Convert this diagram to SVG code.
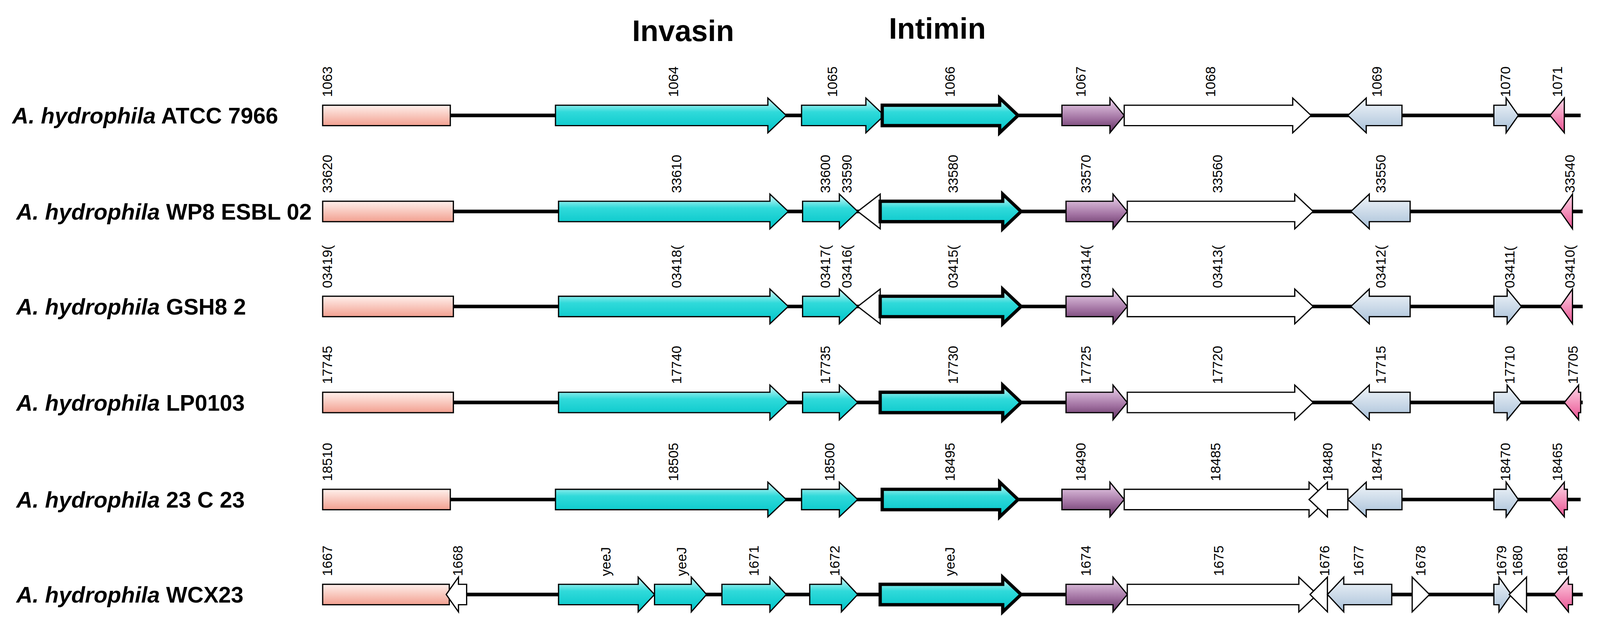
<svg xmlns="http://www.w3.org/2000/svg" width="4157" height="1648" viewBox="0 0 4157 1648">
<defs>
<linearGradient id="gc" x1="0" y1="0" x2="0" y2="1"><stop offset="0" stop-color="#e0fcfc"/><stop offset="0.4" stop-color="#30dada"/><stop offset="1" stop-color="#00c4c8"/></linearGradient>
<linearGradient id="gp" x1="0" y1="0" x2="0" y2="1"><stop offset="0" stop-color="#fff0ec"/><stop offset="1" stop-color="#f2a090"/></linearGradient>
<linearGradient id="gm" x1="0" y1="0" x2="0" y2="1"><stop offset="0" stop-color="#f0d8f0"/><stop offset="0.6" stop-color="#a070a0"/><stop offset="1" stop-color="#603060"/></linearGradient>
<linearGradient id="gb" x1="0" y1="0" x2="0" y2="1"><stop offset="0" stop-color="#f2f6fa"/><stop offset="1" stop-color="#a8c0d8"/></linearGradient>
<linearGradient id="gr" x1="0" y1="0" x2="0" y2="1"><stop offset="0" stop-color="#ffd8e8"/><stop offset="1" stop-color="#e85090"/></linearGradient>
</defs>
<style>
.bb{stroke:#000;stroke-width:3.5}
.g{stroke:#000;stroke-width:1.2;stroke-linejoin:miter}
.i{stroke:#000;stroke-width:3.2}
.c{fill:url(#gc)} .p{fill:url(#gp)} .m{fill:url(#gm)} .b{fill:url(#gb)} .r{fill:url(#gr)} .w{fill:#fff}
.n{font-family:"Liberation Sans",Arial,sans-serif;font-size:13.5px;fill:#000}
.sp{font-family:"Liberation Sans",Arial,sans-serif;font-size:22px;font-weight:bold;fill:#000}
.t{font-family:"Liberation Sans",Arial,sans-serif;font-size:29px;font-weight:bold;fill:#000;text-anchor:middle}
</style>
<rect width="4157" height="1648" fill="#fff"/>
<g transform="scale(2.614)">
<text class="t" x="669" y="40">Invasin</text>
<text class="t" x="918" y="38">Intimin</text>
<g id="connectors">
<line class="bb" x1="316" y1="113" x2="1548" y2="113"/>
<line class="bb" x1="316" y1="207" x2="1550" y2="207"/>
<line class="bb" x1="316" y1="300" x2="1550" y2="300"/>
<line class="bb" x1="316" y1="394" x2="1550" y2="394"/>
<line class="bb" x1="316" y1="489" x2="1548" y2="489"/>
<line class="bb" x1="316" y1="582" x2="1550" y2="582"/>
</g>
<g id="row1">
<text class="sp" x="12" y="121"><tspan font-style="italic">A. hydrophila</tspan> ATCC 7966</text>
<rect class="g p" x="316" y="103" width="125" height="20"/>
<path class="g c" d="M544,103H752V96L770,113L752,130V123H544Z"/>
<path class="g c" d="M785,103H848V96L866,113L848,130V123H785Z"/>
<path class="i c" d="M864,103H979V96L997,113L979,130V123H864Z"/>
<path class="g m" d="M1040,103H1087V96L1101,113L1087,130V123H1040Z"/>
<path class="g w" d="M1101,103H1266V96L1284,113L1266,130V123H1101Z"/>
<path class="g b" d="M1373,103H1338V96L1320,113L1338,130V123H1373Z"/>
<path class="g b" d="M1463,103H1475V96L1487,113L1475,130V123H1463Z"/>
<path class="g r" d="M1532,103V96L1518,113L1532,130V123Z"/>
<g class="n">
<text transform="translate(325,95) rotate(-90)">1063</text>
<text transform="translate(664,95) rotate(-90)">1064</text>
<text transform="translate(820,95) rotate(-90)">1065</text>
<text transform="translate(935,95) rotate(-90)">1066</text>
<text transform="translate(1063,95) rotate(-90)">1067</text>
<text transform="translate(1190,95) rotate(-90)">1068</text>
<text transform="translate(1353,95) rotate(-90)">1069</text>
<text transform="translate(1479,95) rotate(-90)">1070</text>
<text transform="translate(1530,95) rotate(-90)">1071</text>
</g>
</g>
<g id="row2">
<text class="sp" x="16" y="215"><tspan font-style="italic">A. hydrophila</tspan> WP8 ESBL 02</text>
<rect class="g p" x="316" y="197" width="128" height="20"/>
<path class="g c" d="M547,197H754V190L772,207L754,224V217H547Z"/>
<path class="g c" d="M786,197H822V190L840,207L822,224V217H786Z"/>
<path class="g w" d="M862,190L840,207L862,224Z"/>
<path class="i c" d="M862,197H982V190L1000,207L982,224V217H862Z"/>
<path class="g m" d="M1044,197H1090V190L1104,207L1090,224V217H1044Z"/>
<path class="g w" d="M1104,197H1268V190L1286,207L1268,224V217H1104Z"/>
<path class="g b" d="M1381,197H1341V190L1323,207L1341,224V217H1381Z"/>
<path class="g r" d="M1540,197V190L1528,207L1540,224V217Z"/>
<g class="n">
<text transform="translate(325,189) rotate(-90)">33620</text>
<text transform="translate(667,189) rotate(-90)">33610</text>
<text transform="translate(813,189) rotate(-90)">33600</text>
<text transform="translate(834,189) rotate(-90)">33590</text>
<text transform="translate(938,189) rotate(-90)">33580</text>
<text transform="translate(1068,189) rotate(-90)">33570</text>
<text transform="translate(1197,189) rotate(-90)">33560</text>
<text transform="translate(1357,189) rotate(-90)">33550</text>
<text transform="translate(1542,189) rotate(-90)">33540</text>
</g>
</g>
<g id="row3">
<text class="sp" x="16" y="308"><tspan font-style="italic">A. hydrophila</tspan> GSH8 2</text>
<rect class="g p" x="316" y="290" width="128" height="20"/>
<path class="g c" d="M547,290H754V283L772,300L754,317V310H547Z"/>
<path class="g c" d="M786,290H822V283L840,300L822,317V310H786Z"/>
<path class="g w" d="M862,283L840,300L862,317Z"/>
<path class="i c" d="M862,290H982V283L1000,300L982,317V310H862Z"/>
<path class="g m" d="M1044,290H1090V283L1104,300L1090,317V310H1044Z"/>
<path class="g w" d="M1104,290H1268V283L1286,300L1268,317V310H1104Z"/>
<path class="g b" d="M1381,290H1341V283L1323,300L1341,317V310H1381Z"/>
<path class="g b" d="M1463,290H1476V283L1490,300L1476,317V310H1463Z"/>
<path class="g r" d="M1540,290V283L1528,300L1540,317V310Z"/>
<g class="n">
<text transform="translate(325,282) rotate(-90)">03419(</text>
<text transform="translate(667,282) rotate(-90)">03418(</text>
<text transform="translate(813,282) rotate(-90)">03417(</text>
<text transform="translate(834,282) rotate(-90)">03416(</text>
<text transform="translate(938,282) rotate(-90)">03415(</text>
<text transform="translate(1068,282) rotate(-90)">03414(</text>
<text transform="translate(1197,282) rotate(-90)">03413(</text>
<text transform="translate(1357,282) rotate(-90)">03412(</text>
<text transform="translate(1483,282) rotate(-90)">03411(</text>
<text transform="translate(1542,282) rotate(-90)">03410(</text>
</g>
</g>
<g id="row4">
<text class="sp" x="16" y="402"><tspan font-style="italic">A. hydrophila</tspan> LP0103</text>
<rect class="g p" x="316" y="384" width="128" height="20"/>
<path class="g c" d="M547,384H754V377L772,394L754,411V404H547Z"/>
<path class="g c" d="M786,384H822V377L840,394L822,411V404H786Z"/>
<path class="i c" d="M862,384H982V377L1000,394L982,411V404H862Z"/>
<path class="g m" d="M1044,384H1090V377L1104,394L1090,411V404H1044Z"/>
<path class="g w" d="M1104,384H1268V377L1286,394L1268,411V404H1104Z"/>
<path class="g b" d="M1381,384H1341V377L1323,394L1341,411V404H1381Z"/>
<path class="g b" d="M1463,384H1476V377L1490,394L1476,411V404H1463Z"/>
<path class="g r" d="M1548,384H1546V377L1532,394L1546,411V404H1548Z"/>
<g class="n">
<text transform="translate(325,376) rotate(-90)">17745</text>
<text transform="translate(667,376) rotate(-90)">17740</text>
<text transform="translate(813,376) rotate(-90)">17735</text>
<text transform="translate(938,376) rotate(-90)">17730</text>
<text transform="translate(1068,376) rotate(-90)">17725</text>
<text transform="translate(1197,376) rotate(-90)">17720</text>
<text transform="translate(1357,376) rotate(-90)">17715</text>
<text transform="translate(1483,376) rotate(-90)">17710</text>
<text transform="translate(1545,376) rotate(-90)">17705</text>
</g>
</g>
<g id="row5">
<text class="sp" x="16" y="497"><tspan font-style="italic">A. hydrophila</tspan> 23 C 23</text>
<rect class="g p" x="316" y="479" width="125" height="20"/>
<path class="g c" d="M544,479H752V472L770,489L752,506V499H544Z"/>
<path class="g c" d="M785,479H822V472L840,489L822,506V499H785Z"/>
<path class="i c" d="M864,479H979V472L997,489L979,506V499H864Z"/>
<path class="g m" d="M1040,479H1087V472L1101,489L1087,506V499H1040Z"/>
<path class="g w" d="M1101,479H1282V472L1300,489L1282,506V499H1101Z"/>
<path class="g w" d="M1320,479H1300V472L1282,489L1300,506V499H1320Z"/>
<path class="g b" d="M1373,479H1338V472L1320,489L1338,506V499H1373Z"/>
<path class="g b" d="M1463,479H1475V472L1487,489L1475,506V499H1463Z"/>
<path class="g r" d="M1535,479H1532V472L1518,489L1532,506V499H1535Z"/>
<g class="n">
<text transform="translate(325,471) rotate(-90)">18510</text>
<text transform="translate(664,471) rotate(-90)">18505</text>
<text transform="translate(817,471) rotate(-90)">18500</text>
<text transform="translate(935,471) rotate(-90)">18495</text>
<text transform="translate(1063,471) rotate(-90)">18490</text>
<text transform="translate(1195,471) rotate(-90)">18485</text>
<text transform="translate(1305,471) rotate(-90)">18480</text>
<text transform="translate(1353,471) rotate(-90)">18475</text>
<text transform="translate(1479,471) rotate(-90)">18470</text>
<text transform="translate(1530,471) rotate(-90)">18465</text>
</g>
</g>
<g id="row6">
<text class="sp" x="16" y="590"><tspan font-style="italic">A. hydrophila</tspan> WCX23</text>
<rect class="g p" x="316" y="572" width="124" height="20"/>
<path class="g w" d="M457,572H449V565L437,582L449,599V592H457Z"/>
<path class="g c" d="M547,572H625V565L641,582L625,599V592H547Z"/>
<path class="g c" d="M641,572H677V565L692,582L677,599V592H641Z"/>
<path class="g c" d="M707,572H754V565L770,582L754,599V592H707Z"/>
<path class="g c" d="M793,572H824V565L840,582L824,599V592H793Z"/>
<path class="i c" d="M862,572H982V565L1000,582L982,599V592H862Z"/>
<path class="g m" d="M1044,572H1090V565L1104,582L1090,599V592H1044Z"/>
<path class="g w" d="M1104,572H1272V565L1290,582L1272,599V592H1104Z"/>
<path class="g w" d="M1300,572V565L1283,582L1300,599V592Z"/>
<path class="g b" d="M1363,572H1316V565L1300,582L1316,599V592H1363Z"/>
<path class="g w" d="M1383,565L1400,582L1383,599Z"/>
<path class="g b" d="M1463,572H1468V565L1480,582L1468,599V592H1463Z"/>
<path class="g w" d="M1495,565L1478,582L1495,599Z"/>
<path class="g r" d="M1540,572H1536V565L1522,582L1536,599V592H1540Z"/>
<g class="n">
<text transform="translate(325,564) rotate(-90)">1667</text>
<text transform="translate(453,564) rotate(-90)">1668</text>
<text transform="translate(598,564) rotate(-90)">yeeJ</text>
<text transform="translate(672,564) rotate(-90)">yeeJ</text>
<text transform="translate(743,564) rotate(-90)">1671</text>
<text transform="translate(822,564) rotate(-90)">1672</text>
<text transform="translate(935,564) rotate(-90)">yeeJ</text>
<text transform="translate(1068,564) rotate(-90)">1674</text>
<text transform="translate(1198,564) rotate(-90)">1675</text>
<text transform="translate(1302,564) rotate(-90)">1676</text>
<text transform="translate(1335,564) rotate(-90)">1677</text>
<text transform="translate(1396,564) rotate(-90)">1678</text>
<text transform="translate(1475,564) rotate(-90)">1679</text>
<text transform="translate(1491,564) rotate(-90)">1680</text>
<text transform="translate(1535,564) rotate(-90)">1681</text>
</g>
</g>
</g>
</svg>
